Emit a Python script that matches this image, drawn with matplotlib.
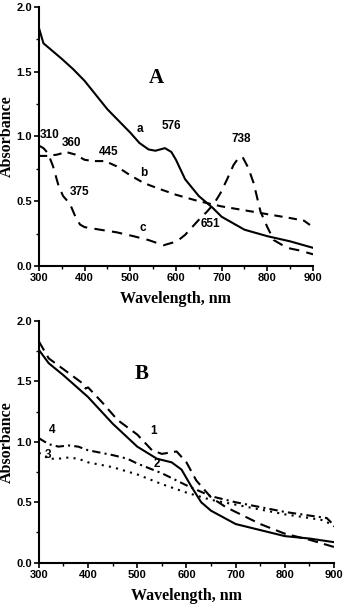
import numpy as np
import matplotlib
matplotlib.use("Agg")
import matplotlib.pyplot as plt
from matplotlib.ticker import MultipleLocator

# ---- panel A data ----
wl_a = [300, 310, 330, 350, 375, 400, 425, 450, 475, 500, 520, 540, 555, 576, 590,
        600, 620, 650, 680, 700, 750, 800, 850, 900]
abs_a = [1.84, 1.72, 1.66, 1.60, 1.52, 1.43, 1.32, 1.21, 1.12, 1.03, 0.95, 0.90, 0.89,
         0.91, 0.88, 0.82, 0.67, 0.54, 0.45, 0.38, 0.28, 0.23, 0.19, 0.14]

wl_b = [300, 320, 340, 360, 380, 400, 420, 445, 470, 500, 530, 560, 600, 650, 700,
        750, 800, 850, 880, 900]
abs_b = [0.85, 0.85, 0.86, 0.88, 0.86, 0.82, 0.81, 0.81, 0.77, 0.70, 0.64, 0.60, 0.55,
         0.50, 0.46, 0.43, 0.40, 0.37, 0.35, 0.30]

wl_c = [300, 310, 320, 331, 343, 353, 368, 380, 390, 400, 434, 470, 507, 540, 573,
        602, 620, 638, 651, 668, 683, 697, 712, 726, 738, 746, 758, 770, 785, 800,
        814, 843, 870, 900]
abs_c = [0.93, 0.91, 0.87, 0.77, 0.62, 0.54, 0.48, 0.38, 0.32, 0.30, 0.28, 0.26, 0.23,
         0.20, 0.16, 0.19, 0.24, 0.31, 0.36, 0.42, 0.48, 0.56, 0.67, 0.78, 0.84, 0.84,
         0.76, 0.64, 0.42, 0.30, 0.20, 0.14, 0.12, 0.09]

# ---- panel B data ----
wl_1 = [300, 320, 350, 390, 395, 400, 430, 460, 500, 530, 550, 580, 600, 620, 650,
        680, 700, 750, 800, 850, 900]
abs_1 = [1.83, 1.69, 1.60, 1.48, 1.44, 1.45, 1.32, 1.18, 1.06, 0.93, 0.90, 0.92, 0.83,
         0.68, 0.54, 0.46, 0.42, 0.32, 0.24, 0.19, 0.13]

wl_2 = [300, 320, 350, 400, 450, 500, 540, 570, 590, 610, 630, 650, 700, 750, 800,
        850, 900]
abs_2 = [1.76, 1.65, 1.55, 1.37, 1.15, 0.96, 0.86, 0.83, 0.77, 0.63, 0.50, 0.43, 0.32,
         0.27, 0.22, 0.20, 0.17]

wl_3 = [300, 320, 340, 360, 380, 400, 450, 500, 550, 600, 650, 700, 750, 800, 850,
        880, 900]
abs_3 = [0.91, 0.86, 0.86, 0.87, 0.86, 0.83, 0.79, 0.73, 0.65, 0.58, 0.52, 0.48, 0.44,
         0.40, 0.37, 0.35, 0.30]

wl_4 = [300, 320, 340, 360, 380, 400, 450, 480, 500, 550, 600, 650, 700, 750, 800,
        850, 885, 900]
abs_4 = [1.03, 0.98, 0.96, 0.97, 0.96, 0.93, 0.89, 0.86, 0.82, 0.74, 0.64, 0.55, 0.50,
         0.46, 0.42, 0.39, 0.37, 0.31]

xticks = [300, 400, 500, 600, 700, 800, 900]
yticks = [0.0, 0.5, 1.0, 1.5, 2.0]

tick_font = dict(family=["Liberation Sans", "DejaVu Sans"], weight="bold", size=8)
note_font = dict(family=["Liberation Sans", "DejaVu Sans"], weight="bold", size=8.5)
label_font = dict(family=["Liberation Serif", "DejaVu Serif"], weight="bold", size=11.5)

fig = plt.figure(figsize=(3.44, 6.10), dpi=100)
axA = fig.add_axes([0.113, 0.564, 0.797, 0.4245])
axB = fig.add_axes([0.113, 0.0775, 0.858, 0.3965])


def style(ax):
    ax.set_xlim(300, 900)
    ax.set_ylim(0, 2.0)
    ax.set_xticks(xticks)
    ax.set_yticks(yticks)
    ax.set_xticklabels([str(t) for t in xticks], **tick_font)
    ax.set_yticklabels([f"{t:.1f}" for t in yticks], **tick_font)
    ax.xaxis.set_minor_locator(MultipleLocator(50))
    ax.yaxis.set_minor_locator(MultipleLocator(0.25))
    ax.tick_params(which="major", direction="out", length=3.5, width=1.2, pad=1.5)
    ax.tick_params(which="minor", direction="out", length=2, width=1)
    for s in ("top", "right"):
        ax.spines[s].set_visible(False)
    for s in ("left", "bottom"):
        ax.spines[s].set_linewidth(1.5)
    ax.set_xlabel("Wavelength, nm", labelpad=6, **label_font)
    ax.set_ylabel("Absorbance", labelpad=1, **label_font)


lw = 1.5
axA.plot(wl_a, abs_a, color="black", lw=lw)
axA.plot(wl_b, abs_b, color="black", lw=lw, dashes=(4, 3))
axA.plot(wl_c, abs_c, color="black", lw=lw, dashes=(5, 3.5))
style(axA)

axA.text(558, 1.45, "A", ha="center", va="center",
         family=["Liberation Serif", "DejaVu Serif"], weight="bold", size=15)
for x, y, s in [(521, 1.06, "a"), (591, 1.08, "576"), (324, 1.01, "310"),
                (372, 0.95, "360"), (452, 0.88, "445"), (529, 0.72, "b"),
                (390, 0.575, "375"), (527, 0.29, "c"), (676, 0.325, "651"),
                (742, 0.98, "738")]:
    axA.text(x, y, s, ha="center", va="center", **note_font)

axB.plot(wl_1, abs_1, color="black", lw=lw, dashes=(5, 3))
axB.plot(wl_2, abs_2, color="black", lw=lw)
axB.plot(wl_3, abs_3, color="black", lw=lw, dashes=(1, 2.5))
axB.plot(wl_4, abs_4, color="black", lw=lw, dashes=(4, 2, 1, 2))
style(axB)

axB.text(508, 1.56, "B", ha="center", va="center",
         family=["Liberation Serif", "DejaVu Serif"], weight="bold", size=15)
for x, y, s in [(534, 1.09, "1"), (539, 0.82, "2"), (327, 1.095, "4"), (319, 0.89, "3")]:
    axB.text(x, y, s, ha="center", va="center", **note_font)

fig.savefig("out.png", dpi=100)
